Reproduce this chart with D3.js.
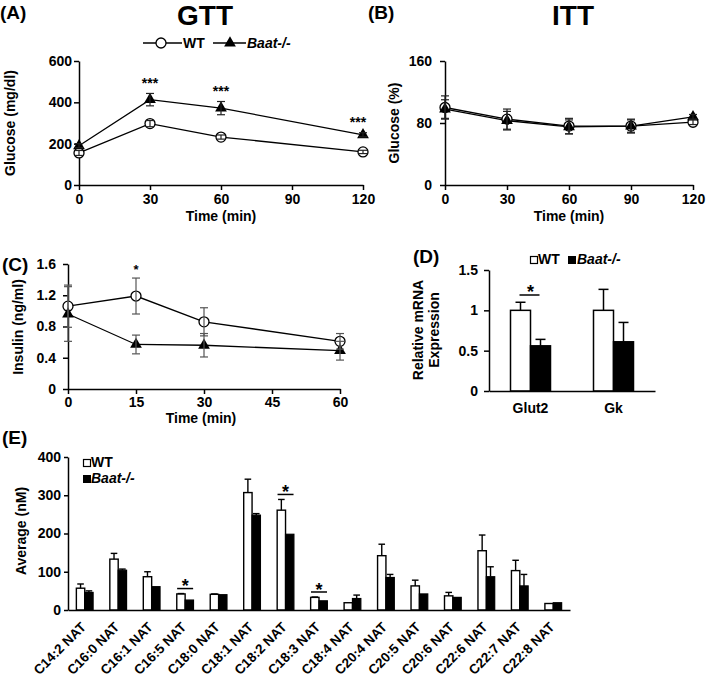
<!DOCTYPE html>
<html><head><meta charset="utf-8">
<script src="https://cdn.jsdelivr.net/npm/d3@7"></script>
<style>
body{margin:0;background:#fff}
svg text{font-family:'Liberation Sans',Arial,Helvetica,sans-serif;font-weight:bold;fill:#000}
</style>
</head><body>
<svg id="c" width="709" height="680"></svg>
<script>
// ---------- DATA ----------
const gttTime = [0, 30, 60, 120];
const gttWT = [155, 297, 232, 160];
const gttWTErr = [12, 15, 10, 8];
const gttKO = [190, 413, 372, 243];
const gttKOErr = [10, 30, 32, 10];
const gttXTicks = [0, 30, 60, 90, 120];
const gttYTicks = [0, 200, 400, 600];
const gttStars = [30, 60, 120];

const ittTime = [0, 30, 60, 90, 120];
const ittWT = [100, 85, 76, 76, 81];
const ittWTErr = [15, 13, 10, 9, 3];
const ittKO = [98, 83, 75, 76, 88];
const ittKOErr = [12, 12, 9, 8, 3];
const ittXTicks = [0, 30, 60, 90, 120];
const ittYTicks = [0, 80, 160];

const insTime = [0, 15, 30, 60];
const insWT = [1.06, 1.19, 0.86, 0.61];
const insWTErr = [0.27, 0.23, 0.18, 0.10];
const insKO = [0.96, 0.57, 0.56, 0.49];
const insKOErr = [0.35, 0.12, 0.15, 0.12];
const insXTicks = [0, 15, 30, 45, 60];
const insYTicks = [0, 0.4, 0.8, 1.2, 1.6];
const insStars = [15];

const genes = ["Glut2", "Gk"];
const mrnaWT = [1.0, 1.0];
const mrnaWTErr = [0.10, 0.26];
const mrnaKO = [0.56, 0.61];
const mrnaKOErr = [0.08, 0.24];
const mrnaYTicks = [0, 0.5, 1, 1.5];
const mrnaStars = ["Glut2"];

const natCats = ["C14:2 NAT","C16:0 NAT","C16:1 NAT","C16:5 NAT","C18:0 NAT","C18:1 NAT","C18:2 NAT","C18:3 NAT","C18:4 NAT","C20:4 NAT","C20:5 NAT","C20:6 NAT","C22:6 NAT","C22:7 NAT","C22:8 NAT"];
const natWT = [57, 133, 87, 42, 41, 307, 261, 33, 19, 142, 63, 37, 155, 103, 17];
const natWTErr = [11, 15, 13, 1, 1, 35, 28, 1, 0, 30, 15, 9, 41, 27, 0];
const natKO = [46, 104, 61, 26, 40, 248, 198, 24, 30, 85, 42, 33, 87, 63, 19];
const natKOErr = [4, 3, 0, 0, 0, 4, 0, 0, 9, 8, 0, 0, 26, 30, 0];
const natYTicks = [0, 100, 200, 300, 400];
const natStars = ["C16:5 NAT", "C18:2 NAT", "C18:3 NAT"];

// ---------- HELPERS ----------
const svg = d3.select("#c");
svg.append("rect").attr("width", 709).attr("height", 680).attr("fill", "#fff");
const FONT = "'Liberation Sans', Arial, Helvetica, sans-serif";

function styleAxis(g, fs) {
  g.attr("font-family", FONT);
  g.selectAll("path, line").attr("stroke", "#000").attr("stroke-width", 1.5);
  g.selectAll("text").attr("font-size", fs).attr("font-weight", "bold").attr("fill", "#000");
}
function label(x, y, txt, fs, opts = {}) {
  const t = svg.append("text").attr("x", x).attr("y", y).attr("font-size", fs)
    .attr("text-anchor", opts.anchor || "middle").text(txt);
  if (opts.italic) t.attr("font-style", "italic");
  return t;
}
function vlabel(x, y, txt, fs) {
  svg.append("text").attr("transform", `translate(${x},${y}) rotate(-90)`)
    .attr("text-anchor", "middle").attr("font-size", fs).text(txt);
}
function star(x, cy, txt, fs) {
  svg.append("text").attr("x", x).attr("y", cy + 0.55 * fs).attr("font-size", fs)
    .attr("text-anchor", "middle").text(txt);
}
const tri = d3.symbol().type(d3.symbolTriangle).size(60);

function lineChart(o) {
  const g = svg.append("g");
  const s = o.series.map(se => o.time.map((t, i) => ({ t, v: se.vals[i], e: se.errs[i] })));
  const line = d3.line().x(d => o.x(d.t)).y(d => o.y(d.v));
  s.forEach(pts => g.append("path").datum(pts).attr("d", line)
    .attr("fill", "none").attr("stroke", "#000").attr("stroke-width", 1.3));
  o.series.forEach((se, k) => {
    s[k].forEach(d => {
      if (se.type === "circle") {
        g.append("circle").attr("cx", o.x(d.t)).attr("cy", o.y(d.v)).attr("r", 5)
          .attr("fill", "#fff").attr("stroke", "#000").attr("stroke-width", 1.3);
      } else {
        g.append("path").attr("d", tri).attr("transform", `translate(${o.x(d.t)},${o.y(d.v)})`)
          .attr("fill", "#000");
      }
    });
  });
  s.forEach(pts => pts.forEach(d => {
    const x = o.x(d.t), y1 = o.y(d.v - d.e), y2 = o.y(d.v + d.e);
    g.append("line").attr("x1", x).attr("x2", x).attr("y1", y1).attr("y2", y2)
      .attr("stroke", o.errColor).attr("stroke-width", 1.2);
    [y1, y2].forEach(yy => g.append("line").attr("x1", x - 4).attr("x2", x + 4)
      .attr("y1", yy).attr("y2", yy).attr("stroke", o.errColor).attr("stroke-width", 1.2));
  }));
}

// ---------- PANEL A: GTT ----------
const xA = d3.scaleLinear().domain([0, 120]).range([79, 363]);
const yA = d3.scaleLinear().domain([0, 600]).range([185, 61]);
styleAxis(svg.append("g").attr("transform", "translate(0,185)")
  .call(d3.axisBottom(xA).tickValues(gttXTicks).tickSize(5).tickSizeOuter(0).tickPadding(4)), 14);
styleAxis(svg.append("g").attr("transform", "translate(79,0)")
  .call(d3.axisLeft(yA).tickValues(gttYTicks).tickSize(5).tickSizeOuter(0).tickPadding(2)), 14);
lineChart({ x: xA, y: yA, time: gttTime, errColor: "#222",
  series: [{ vals: gttWT, errs: gttWTErr, type: "circle" }, { vals: gttKO, errs: gttKOErr, type: "tri" }] });
gttStars.forEach(t => {
  const i = gttTime.indexOf(t);
  star(xA(t) - (t === 120 ? 5 : 0), yA(gttKO[i] + gttKOErr[i]) - 13, "***", 14);
});
label(0, 19, "(A)", 19, { anchor: "start" });
label(205, 25, "GTT", 28);
label(221, 221, "Time (min)", 14);
vlabel(15, 123, "Glucose (mg/dl)", 14);
// legend A
svg.append("line").attr("x1", 143).attr("x2", 182).attr("y1", 43).attr("y2", 43).attr("stroke", "#000").attr("stroke-width", 1.3);
svg.append("circle").attr("cx", 161).attr("cy", 43).attr("r", 5).attr("fill", "#fff").attr("stroke", "#000").attr("stroke-width", 1.3);
label(183, 48, "WT", 14, { anchor: "start" });
svg.append("line").attr("x1", 213).attr("x2", 246).attr("y1", 43).attr("y2", 43).attr("stroke", "#000").attr("stroke-width", 1.3);
svg.append("path").attr("d", tri).attr("transform", "translate(230,43)").attr("fill", "#000");
label(247, 48, "Baat-/-", 14, { anchor: "start", italic: true });

// ---------- PANEL B: ITT ----------
const xB = d3.scaleLinear().domain([0, 120]).range([445, 693]);
const yB = d3.scaleLinear().domain([0, 160]).range([185, 61]);
styleAxis(svg.append("g").attr("transform", "translate(0,185)")
  .call(d3.axisBottom(xB).tickValues(ittXTicks).tickSize(5).tickSizeOuter(0).tickPadding(4)), 14);
styleAxis(svg.append("g").attr("transform", "translate(445,0)")
  .call(d3.axisLeft(yB).tickValues(ittYTicks).tickSize(5).tickSizeOuter(0).tickPadding(8)), 14);
lineChart({ x: xB, y: yB, time: ittTime, errColor: "#222",
  series: [{ vals: ittWT, errs: ittWTErr, type: "circle" }, { vals: ittKO, errs: ittKOErr, type: "tri" }] });
label(368, 19, "(B)", 19, { anchor: "start" });
label(573, 25, "ITT", 28);
label(569, 221, "Time (min)", 14);
vlabel(399, 123, "Glucose (%)", 14);

// ---------- PANEL C: Insulin ----------
const xC = d3.scaleLinear().domain([0, 60]).range([68, 340]);
const yC = d3.scaleLinear().domain([0, 1.6]).range([389, 264]);
styleAxis(svg.append("g").attr("transform", "translate(0,389)")
  .call(d3.axisBottom(xC).tickValues(insXTicks).tickSize(5).tickSizeOuter(0).tickPadding(3)), 14);
styleAxis(svg.append("g").attr("transform", "translate(68,0)")
  .call(d3.axisLeft(yC).tickValues(insYTicks).tickFormat(d => d === 0 ? "0" : d3.format(".1f")(d))
    .tickSize(5).tickSizeOuter(0).tickPadding(7)), 14);
lineChart({ x: xC, y: yC, time: insTime, errColor: "#555",
  series: [{ vals: insWT, errs: insWTErr, type: "circle" }, { vals: insKO, errs: insKOErr, type: "tri" }] });
insStars.forEach(t => {
  const i = insTime.indexOf(t);
  star(xC(t), yC(insWT[i] + insWTErr[i]) - 11, "*", 13);
});
label(2, 271, "(C)", 19, { anchor: "start" });
label(201, 423, "Time (min)", 14);
vlabel(23, 327, "Insulin (ng/ml)", 14);

// ---------- PANEL D: mRNA ----------
const xD = d3.scaleBand().domain(genes).range([489, 655]);
const yD = d3.scaleLinear().domain([0, 1.5]).range([391, 270]);
const bwD = 20;
const gD = svg.append("g");
genes.forEach((gname, i) => {
  const c = xD(gname) + xD.bandwidth() / 2;
  gD.append("rect").attr("x", c - bwD).attr("y", yD(mrnaWT[i])).attr("width", bwD)
    .attr("height", yD(0) - yD(mrnaWT[i])).attr("fill", "#fff").attr("stroke", "#000").attr("stroke-width", 1.5);
  gD.append("rect").attr("x", c).attr("y", yD(mrnaKO[i])).attr("width", bwD)
    .attr("height", yD(0) - yD(mrnaKO[i])).attr("fill", "#000").attr("stroke", "#000").attr("stroke-width", 1.5);
  [[c - bwD / 2, mrnaWT[i], mrnaWTErr[i]], [c + bwD / 2, mrnaKO[i], mrnaKOErr[i]]].forEach(([x, v, e]) => {
    gD.append("line").attr("x1", x).attr("x2", x).attr("y1", yD(v)).attr("y2", yD(v + e)).attr("stroke", "#000").attr("stroke-width", 1.5);
    gD.append("line").attr("x1", x - 5).attr("x2", x + 5).attr("y1", yD(v + e)).attr("y2", yD(v + e)).attr("stroke", "#000").attr("stroke-width", 1.5);
  });
});
styleAxis(svg.append("g").attr("transform", "translate(0,391)")
  .call(d3.axisBottom(xD).tickSize(0).tickSizeOuter(0).tickPadding(12)), 14);
styleAxis(svg.append("g").attr("transform", "translate(489,0)")
  .call(d3.axisLeft(yD).tickValues(mrnaYTicks).tickFormat(d3.format("")).tickSize(5).tickSizeOuter(0).tickPadding(6)), 14);
mrnaStars.forEach(gname => {
  const c = xD(gname) + xD.bandwidth() / 2;
  svg.append("line").attr("x1", c - 11).attr("x2", c + 9).attr("y1", 295).attr("y2", 295).attr("stroke", "#000").attr("stroke-width", 1.5);
  star(c, 288, "*", 18);
});
label(413, 263, "(D)", 19, { anchor: "start" });
vlabel(423, 330, "Relative mRNA", 14);
vlabel(439, 330, "Expression", 14);
svg.append("rect").attr("x", 530.5).attr("y", 256.5).attr("width", 7).attr("height", 7).attr("fill", "#fff").attr("stroke", "#000").attr("stroke-width", 1.2);
label(538, 264, "WT", 14, { anchor: "start" });
svg.append("rect").attr("x", 568).attr("y", 256).attr("width", 8).attr("height", 8).attr("fill", "#000");
label(577, 264, "Baat-/-", 14, { anchor: "start", italic: true });

// ---------- PANEL E: NAT ----------
const xE = d3.scaleBand().domain(natCats).range([68, 570]);
const yE = d3.scaleLinear().domain([0, 400]).range([610, 457]);
const bwE = xE.bandwidth() * 0.25;
const gE = svg.append("g");
natCats.forEach((cat, i) => {
  const c = xE(cat) + xE.bandwidth() / 2;
  gE.append("rect").attr("x", c - bwE).attr("y", yE(natWT[i])).attr("width", bwE)
    .attr("height", yE(0) - yE(natWT[i])).attr("fill", "#fff").attr("stroke", "#000").attr("stroke-width", 1.4);
  gE.append("rect").attr("x", c).attr("y", yE(natKO[i])).attr("width", bwE)
    .attr("height", yE(0) - yE(natKO[i])).attr("fill", "#000").attr("stroke", "#000").attr("stroke-width", 1.2);
  [[c - bwE / 2, natWT[i], natWTErr[i]], [c + bwE / 2, natKO[i], natKOErr[i]]].forEach(([x, v, e]) => {
    if (e <= 0) return;
    gE.append("line").attr("x1", x).attr("x2", x).attr("y1", yE(v)).attr("y2", yE(v + e)).attr("stroke", "#000").attr("stroke-width", 1.4);
    gE.append("line").attr("x1", x - 3.3).attr("x2", x + 3.3).attr("y1", yE(v + e)).attr("y2", yE(v + e)).attr("stroke", "#000").attr("stroke-width", 1.4);
  });
  svg.append("text").attr("transform", `translate(${c + 2},${628}) rotate(-45)`)
    .attr("text-anchor", "end").attr("font-size", 13.5).text(cat);
});
const axE = svg.append("g").attr("transform", "translate(0,610)")
  .call(d3.axisBottom(xE).tickSize(0).tickSizeOuter(0).tickFormat(""));
styleAxis(axE, 13);
styleAxis(svg.append("g").attr("transform", "translate(68,0)")
  .call(d3.axisLeft(yE).tickValues(natYTicks).tickSize(4).tickSizeOuter(0).tickPadding(3)), 14);
natStars.forEach(cat => {
  const i = natCats.indexOf(cat);
  const c = xE(cat) + xE.bandwidth() / 2;
  const top = yE(Math.max(natWT[i] + natWTErr[i], natKO[i] + natKOErr[i]));
  svg.append("line").attr("x1", c - 8).attr("x2", c + 8).attr("y1", top - 5).attr("y2", top - 5).attr("stroke", "#000").attr("stroke-width", 1.5);
  star(c, top - 11, "*", 18);
});
label(2, 444, "(E)", 19, { anchor: "start" });
vlabel(26, 531, "Average (nM)", 14);
svg.append("rect").attr("x", 83.5).attr("y", 459.5).attr("width", 7).attr("height", 7).attr("fill", "#fff").attr("stroke", "#000").attr("stroke-width", 1.2);
label(91, 467, "WT", 14, { anchor: "start" });
svg.append("rect").attr("x", 83).attr("y", 475).attr("width", 8).attr("height", 8).attr("fill", "#000");
label(91, 483, "Baat-/-", 14, { anchor: "start", italic: true });
</script>
</body></html>
